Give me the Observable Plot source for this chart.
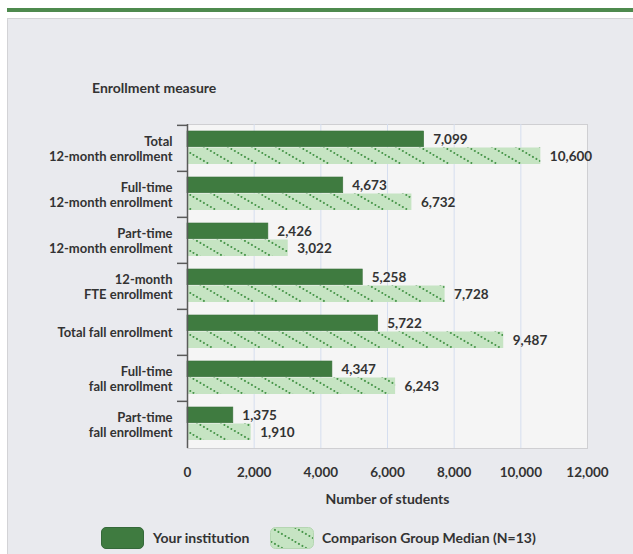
<!DOCTYPE html>
<html>
<head>
<meta charset="utf-8">
<script src="https://cdn.jsdelivr.net/npm/d3@7"></script>
<script src="https://cdn.jsdelivr.net/npm/@observablehq/plot@0.6"></script>
<style>
  html, body { margin: 0; padding: 0; background: #ffffff; width: 633px; height: 554px; overflow: hidden; }
  body { position: relative; font-family: Lato, "Open Sans", sans-serif; font-weight: 700; color: #333; }
  .topline { position: absolute; left: 7px; top: 8px; width: 626px; height: 4px; background: #4e8a4e; }
  .panel { position: absolute; left: 7px; top: 18px; width: 640px; height: 560px; background: #e9eaee; border: 1px solid #d3d3d6; box-sizing: border-box; }
  .txt { position: absolute; font-size: 14px; white-space: nowrap; line-height: 1; }
  #chart { position: absolute; left: 0; top: 0; }
  .sw { position: absolute; }
</style>
</head>
<body>
<div class="topline"></div>
<div class="panel"></div>
<div id="chart"></div>
<div class="txt" id="ytitle" style="left:92px; top:81px;">Enrollment measure</div>
<div class="txt" id="xtitle" style="left:0; width:633px; top:492px; text-align:center; padding-left:142px; box-sizing:border-box;"></div>
<div class="sw" style="left:101px; top:527px; width:43px; height:22px; background:#3f7b40; border-radius:5px; border:1px solid #35693a; box-sizing:border-box;"></div>
<div class="txt" id="leg1" style="left:153px; top:531px;"></div>
<svg class="sw" style="left:270px; top:527px;" width="44" height="22">
  <defs>
    <pattern id="hatchLeg" patternUnits="userSpaceOnUse" width="24" height="14">
      <rect width="24" height="14" fill="#c6e4c3"/>
      <line x1="-2" y1="-1.1667" x2="26" y2="15.1667" stroke="#4a974c" stroke-width="2" stroke-linecap="round" stroke-dasharray="0.01 4"/>
    </pattern>
  </defs>
  <rect x="0.5" y="0.5" width="43" height="21" rx="5" fill="url(#hatchLeg)" stroke="#b5d6b2"/>
</svg>
<div class="txt" id="leg2" style="left:322px; top:531px;"></div>
<script>
// ---- data ----
const categories = [
  "Total\n12-month enrollment",
  "Full-time\n12-month enrollment",
  "Part-time\n12-month enrollment",
  "12-month\nFTE enrollment",
  "Total fall enrollment",
  "Full-time\nfall enrollment",
  "Part-time\nfall enrollment"
];
const yourInstitution = [7099, 4673, 2426, 5258, 5722, 4347, 1375];
const comparisonMedian = [10600, 6732, 3022, 7728, 9487, 6243, 1910];
const xTicks = [0, 2000, 4000, 6000, 8000, 10000, 12000];
const seriesNames = ["Your institution", "Comparison Group Median (N=13)"];
const yTitle = "Enrollment measure";
const xTitle = "Number of students";

document.getElementById("ytitle").textContent = yTitle;
document.getElementById("xtitle").textContent = xTitle;
document.getElementById("leg1").textContent = seriesNames[0];
document.getElementById("leg2").textContent = seriesNames[1];

const rowsA = categories.map((c, i) => ({category: c, value: yourInstitution[i]}));
const rowsB = categories.map((c, i) => ({category: c, value: comparisonMedian[i]}));

const W = 633, H = 554;
const mL = 187, mR = 46, mT = 124, mB = 106;
const bw = (H - mT - mB) / categories.length;
const fmt = d3.format(",");
const labelStyle = {fontSize: 13.5, fontWeight: "bold", fill: "#333"};

const plot = Plot.plot({
  width: W,
  height: H,
  marginLeft: mL,
  marginRight: mR,
  marginTop: mT,
  marginBottom: mB,
  style: {background: "transparent", fontFamily: "Lato, 'Open Sans', sans-serif"},
  x: {domain: [0, 12000], ticks: xTicks, label: null},
  y: {domain: categories, padding: 0, label: null, axis: null},
  marks: [
    Plot.frame({fill: "#f5f5f5", stroke: "#cfcfd2"}),
    Plot.gridX(xTicks.slice(1, -1), {stroke: "#d5deef", strokeOpacity: 1}),
    Plot.barX(rowsA, {x: "value", y: "category", fill: "#3f7b40", stroke: "#3a723b", strokeWidth: 0.6, insetTop: 6, insetBottom: bw - 22}),
    Plot.barX(rowsB, {x: "value", y: "category", fill: "url(#hatch)", insetTop: 22.5, insetBottom: 7}),
    Plot.text(rowsA, {x: "value", y: "category", text: d => fmt(d.value), dx: 9, dy: -9, textAnchor: "start", ...labelStyle}),
    Plot.text(rowsB, {x: "value", y: "category", text: d => fmt(d.value), dx: 9, dy: 8, textAnchor: "start", ...labelStyle}),
    Plot.text(categories, {y: d => d, text: d => d, frameAnchor: "left", dx: -15, textAnchor: "end", lineHeight: 1.18, ...labelStyle, fontSize: 13}),
    Plot.ruleY(categories, {y: d => d, dy: -bw / 2, x1: 0, x2: 0, insetLeft: -10, stroke: "#5a5a5a", strokeWidth: 1.5}),
    Plot.ruleX([0], {stroke: "#5a5a5a", strokeWidth: 1.5}),
    Plot.ruleY([0], {frameAnchor: "bottom", x1: 0, x2: 12000, insetLeft: -10, stroke: "#5a5a5a", strokeWidth: 1.5}),
    Plot.axisX({ticks: xTicks, tickSize: 0, tickPadding: 19, tickFormat: fmt, fontSize: 13.5, fontWeight: "bold", fill: "#333", label: null})
  ]
});

d3.select(plot).insert("defs", ":first-child").html(`
  <pattern id="hatch" patternUnits="userSpaceOnUse" width="24" height="14">
    <rect width="24" height="14" fill="#c6e4c3"/>
    <line x1="-2" y1="-1.1667" x2="26" y2="15.1667" stroke="#4a974c" stroke-width="2" stroke-linecap="round" stroke-dasharray="0.01 4"/>
  </pattern>`);

document.getElementById("chart").appendChild(plot);
</script>
</body>
</html>
